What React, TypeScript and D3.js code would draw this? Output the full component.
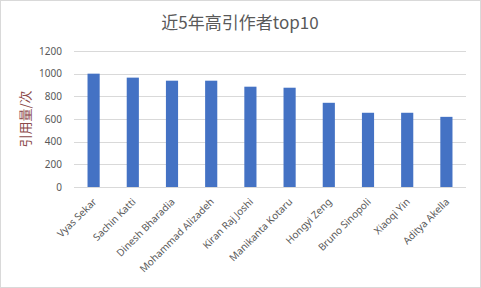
import React, { useRef, useEffect } from "react";
import * as d3 from "d3";

const authors = [
  "Vyas Sekar",
  "Sachin Katti",
  "Dinesh Bharadia",
  "Mohammad Alizadeh",
  "Kiran Raj Joshi",
  "Manikanta Kotaru",
  "Hongyi Zeng",
  "Bruno Sinopoli",
  "Xiaoqi Yin",
  "Aditya Akella",
];
const citations = [1000, 965, 938, 938, 885, 876, 743, 655, 655, 619];
const yTicks = [0, 200, 400, 600, 800, 1000, 1200];

const title = "近5年高引作者top10";
const yTitle = "引用量/次";

const W = 481;
const H = 288;

const App = () => {
  const ref = useRef<SVGSVGElement>(null);

  useEffect(() => {
    if (!ref.current) return;
    const svg = d3.select(ref.current);
    svg.selectAll("*").remove();

    const margin = { top: 51, right: 15, bottom: 101, left: 74 };
    const width = W - margin.left - margin.right;
    const height = H - margin.top - margin.bottom;
    const font = "'Noto Sans', 'Noto Sans CJK SC', sans-serif";

    svg.append("rect")
      .attr("x", 0.5).attr("y", 0.5)
      .attr("width", W - 1).attr("height", H - 1)
      .attr("fill", "#fff").attr("stroke", "#d9d9d9");

    svg.append("text")
      .attr("x", 240).attr("y", 29)
      .attr("text-anchor", "middle")
      .attr("font-family", "'Noto Sans CJK SC', sans-serif")
      .attr("font-size", 17)
      .attr("fill", "#595959")
      .text(title);

    const x = d3.scaleBand().domain(authors).range([0, width]).paddingInner(0.69).paddingOuter(0.345);
    const y = d3.scaleLinear().domain([0, 1200]).range([height, 0]);

    const g = svg.append("g").attr("transform", `translate(${margin.left},${margin.top})`);

    g.selectAll(".grid")
      .data(yTicks)
      .enter().append("line")
      .attr("x1", 0).attr("x2", width)
      .attr("y1", d => Math.round(y(d)) + 0.5)
      .attr("y2", d => Math.round(y(d)) + 0.5)
      .attr("stroke", "#d9d9d9");

    g.selectAll(".ylab")
      .data(yTicks)
      .enter().append("text")
      .attr("x", -12).attr("y", d => y(d))
      .attr("dy", "0.35em")
      .attr("text-anchor", "end")
      .attr("font-family", font)
      .attr("font-size", 10)
      .attr("fill", "#595959")
      .text(d => d);

    g.selectAll(".bar")
      .data(citations)
      .enter().append("rect")
      .attr("x", (d, i) => x(authors[i])!)
      .attr("width", x.bandwidth())
      .attr("y", d => y(d))
      .attr("height", d => height - y(d))
      .attr("fill", "#4472c4");

    g.selectAll(".xlab")
      .data(authors)
      .enter().append("text")
      .attr("transform", d => `translate(${x(d)! + x.bandwidth() / 2 + 1},${height + 13}) rotate(-45)`)
      .attr("text-anchor", "end")
      .attr("dy", "0.35em")
      .attr("font-family", font)
      .attr("font-size", 10)
      .attr("fill", "#595959")
      .text(d => d);

    svg.append("text")
      .attr("transform", `translate(25,${margin.top + height / 2}) rotate(-90)`)
      .attr("text-anchor", "middle")
      .attr("dy", "0.35em")
      .attr("font-family", "'Noto Sans CJK SC', sans-serif")
      .attr("font-size", 13)
      .attr("fill", "#8c4a4a")
      .text(yTitle);
  }, []);

  return <svg ref={ref} width={W} height={H} style={{ position: "absolute", left: 0, top: 0 }} />;
};

export default App;
